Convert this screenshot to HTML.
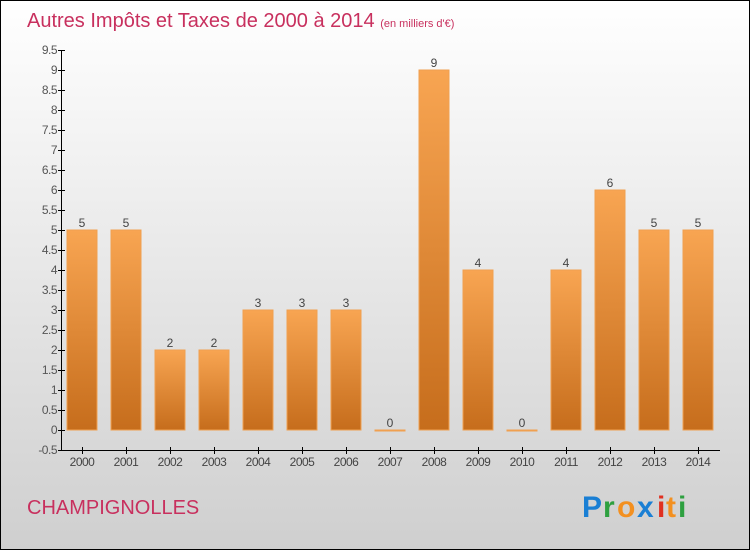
<!DOCTYPE html>
<html><head><meta charset="utf-8"><style>
body{margin:0}
svg{display:block;font-family:"Liberation Sans",sans-serif}
</style></head><body>
<svg id="c" width="750" height="550" xmlns="http://www.w3.org/2000/svg">
<defs>
<linearGradient id="bg" x1="0" y1="0" x2="0" y2="1"><stop offset="0" stop-color="#ffffff"/><stop offset="1" stop-color="#cfcfcf"/></linearGradient>
<linearGradient id="bar" x1="0" y1="0" x2="0" y2="1"><stop offset="0" stop-color="#f8a552"/><stop offset="1" stop-color="#c66d1c"/></linearGradient>
</defs>
<rect x="0.5" y="0.5" width="749" height="549" fill="url(#bg)" stroke="#000"/>
<text x="27" y="27" font-size="20" fill="#c8305e">Autres Impôts et Taxes de 2000 à 2014 <tspan font-size="11">(en milliers d'€)</tspan></text>
<g id="plot"></g>
<text x="27" y="514" font-size="20" fill="#c8305e">CHAMPIGNOLLES</text>
<g font-size="30" font-weight="bold">
<text x="582" y="517" fill="#1a7fd4">P</text><text x="603" y="517" fill="#2ea040">r</text><text x="617" y="517" fill="#f39020">o</text><text x="637" y="517" fill="#1a7fd4">x</text><text x="657" y="517" fill="#e03020">i</text><text x="666" y="517" fill="#f39020">t</text><text x="678" y="517" fill="#2ea040">i</text>
</g>
</svg>
<script>
const categories=["2000","2001","2002","2003","2004","2005","2006","2007","2008","2009","2010","2011","2012","2013","2014"];
const values=[5,5,2,2,3,3,3,0,9,4,0,4,6,5,5];
const yTicks=[-0.5,0,0.5,1,1.5,2,2.5,3,3.5,4,4.5,5,5.5,6,6.5,7,7.5,8,8.5,9,9.5];
const NS="http://www.w3.org/2000/svg";
const g=document.getElementById('plot');
const y=v=>430-v*40;
const x=i=>82+i*44;
function mk(t,a,txt){const e=document.createElementNS(NS,t);for(const k in a)e.setAttribute(k,a[k]);if(txt!==undefined)e.textContent=txt;g.appendChild(e);return e;}
let e;
e=mk('line',{x1:61.5,y1:50,x2:61.5,y2:450.5,stroke:'#000'});


e=mk('line',{x1:61,y1:450.5,x2:720,y2:450.5,stroke:'#000'});


yTicks.forEach(v=>{
 e=mk('line',{x1:58,y1:y(v)+0.5,x2:65,y2:y(v)+0.5,stroke:'#000'});
 
 
 e=mk('text',{x:57,y:y(v)+4,'font-size':12,fill:'#555','text-anchor':'end','letter-spacing':'-0.5'},String(v));
 
 
});
categories.forEach((c,i)=>{
 const v=values[i];
 const top=y(Math.max(v,0)),h=Math.max(Math.abs(y(v)-y(0)),1);
 e=mk('rect',{x:x(i)-15,y:top,width:30,height:h,fill:'url(#bar)',stroke:'#f0a050','stroke-width':1});
 
 
 e=mk('text',{x:x(i),y:top-3,'font-size':12,fill:'#444','text-anchor':'middle'},String(v));
 
 
 e=mk('line',{x1:x(i)+0.5,y1:447,x2:x(i)+0.5,y2:454,stroke:'#000'});
 
 
 e=mk('text',{x:x(i),y:466,'font-size':12,fill:'#444','text-anchor':'middle','letter-spacing':'-0.5'},c);
 
 
});
</script>
</body></html>
